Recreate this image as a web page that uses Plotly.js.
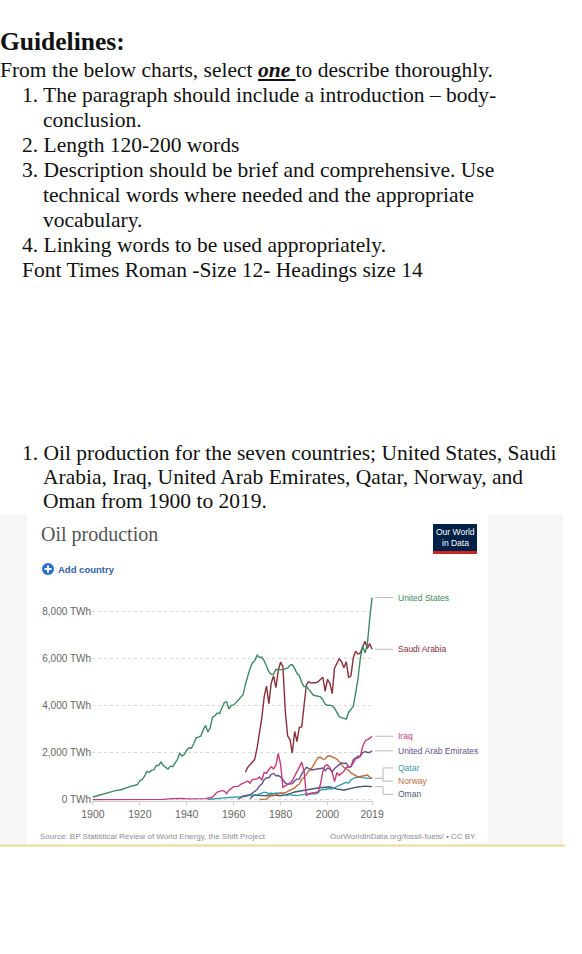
<!DOCTYPE html>
<html>
<head>
<meta charset="utf-8">
<script src="https://cdn.plot.ly/plotly-3.0.1.min.js"></script>
<style>
  html, body { margin: 0; padding: 0; background: #fff; }
  body { width: 582px; height: 954px; position: relative; overflow: hidden; }
  #chart { position: absolute; left: 0; top: 0; width: 582px; height: 954px; }
  .ln { position: absolute; font-family: "Liberation Serif", "Times New Roman", serif; font-size: 21.5px;
        line-height: 25px; color: #111; white-space: nowrap; }
  .hd { font-weight: bold; font-size: 25.5px; line-height: 28px; }
</style>
</head>
<body>
<div id="chart"></div>

<div class="ln hd" style="top:28px;left:0">Guidelines:</div>
<div class="ln" style="top:58px;left:0">From the below charts, select <b><i><u>one </u></i></b>to describe thoroughly.</div>
<div class="ln" style="top:83px;left:22px">1. The paragraph should include a introduction – body-</div>
<div class="ln" style="top:108px;left:43px">conclusion.</div>
<div class="ln" style="top:133px;left:22px">2. Length 120-200 words</div>
<div class="ln" style="top:158px;left:22px">3. Description should be brief and comprehensive. Use</div>
<div class="ln" style="top:183px;left:43px">technical words where needed and the appropriate</div>
<div class="ln" style="top:208px;left:43px">vocabulary.</div>
<div class="ln" style="top:233px;left:22px">4. Linking words to be used appropriately.</div>
<div class="ln" style="top:258px;left:22px">Font Times Roman -Size 12- Headings size 14</div>

<div class="ln" style="top:441px;left:22px">1. Oil production for the seven countries; United States, Saudi</div>
<div class="ln" style="top:465px;left:43px">Arabia, Iraq, United Arab Emirates, Qatar, Norway, and</div>
<div class="ln" style="top:489px;left:43px">Oman from 1900 to 2019.</div>

<script>
// years helper (x positions only)
function span(a, b) { var r = []; for (var y = a; y <= b; y++) r.push(y); return r; }

// ---- data, TWh ----
var usYears = [1900, 1902, 1904, 1906, 1908, 1910, 1912, 1914, 1916, 1918].concat(span(1919, 2019));
var usTWh = [110, 170, 230, 260, 340, 390, 420, 500, 560, 610,
  640, 800, 850, 1000, 1200, 1150, 1250, 1260, 1450, 1450,
  1600, 1450, 1380, 1300, 1420, 1400, 1550, 1700, 1960, 1850,
  1920, 2100, 2200, 2180, 2380, 2620, 2650, 2700, 2950, 3150,
  2870, 3050, 3500, 3560, 3680, 3650, 3900, 4120, 4150, 3850,
  4000, 4020, 4120, 4220, 4350, 4450,
  4900, 5250, 5570, 5810, 5900, 6130, 6030, 6050, 5900, 5670,
  5430, 5315, 5315, 5530, 5510, 5510, 5530, 5570, 5580, 5705,
  5730, 5560, 5360, 5260, 4970, 4790, 4820, 4680, 4550, 4430,
  4410, 4385, 4360, 4240, 4050, 4000, 4010, 3980, 3880, 3700,
  3520, 3480, 3450, 3420, 3700, 3820, 3960, 4520, 5140, 6000,
  6510, 6230, 6590, 7690, 8580];

var saudiYears = span(1965, 2019);
var saudiTWh = [1160, 1372, 1481, 1619, 1711, 2204, 2755, 3467, 4362, 4822,
  4075, 4936, 5258, 4753, 5464, 5843, 5637, 3765, 2709, 2549,
  1975, 2893, 2468, 3077, 3077, 3926, 4879, 5005, 4948, 4959,
  4959, 5005, 5120, 5200, 4600, 5100, 4950, 4500, 5579, 5797,
  5981, 5855, 5602, 5855, 5189, 5258, 6027, 6303, 6176, 6234,
  6509, 6727, 6417, 6624, 6383];

var iraqYears = [1900, 1926, 1927, 1930, 1934, 1935, 1938, 1940, 1942, 1945, 1948, 1950].concat(span(1951, 2019));
var iraqTWh = [0, 0, 10, 10, 40, 50, 50, 30, 30, 50, 40, 80,
  100, 220, 320, 350, 380, 360, 250, 400, 480, 550, 560, 560, 650, 700,
  740, 790, 700, 860, 860, 880, 960, 830, 1150, 1110,
  1280, 1390, 1300, 1460, 1960, 1500, 520, 580, 640, 700,
  810, 980, 1180, 1380, 1590, 1210, 160, 250, 270, 290,
  300, 320, 650, 1200, 1450, 1470, 1360, 1150, 760, 1140,
  1030, 1130, 1200, 1370, 1380, 1390, 1560, 1740, 1760, 1840,
  2260, 2490, 2550, 2600, 2690];

var uaeYears = [1962, 1963, 1964].concat(span(1965, 2019));
var uaeTWh = [20, 100, 150,
  160, 200, 205, 280, 345, 430, 580, 660, 840, 930,
  930, 1070, 1110, 1010, 1020, 960, 840, 710, 650, 660,
  680, 800, 870, 870, 1090, 1230, 1370, 1330, 1270, 1270,
  1300, 1310, 1320, 1340, 1230, 1340, 1300, 1180, 1320, 1410,
  1480, 1560, 1530, 1550, 1380, 1410, 1690, 1770, 1840, 1840,
  1990, 2040, 2000, 2000, 2070];

var qatarYears = [1949, 1950, 1952, 1955, 1958, 1960, 1962, 1964].concat(span(1965, 2019));
var qatarTWh = [5, 20, 40, 62, 90, 94, 100, 117,
  127, 160, 185, 196, 204, 200, 250, 280, 316, 290,
  250, 280, 250, 280, 290, 270, 230, 190, 170, 230,
  170, 190, 170, 190, 210, 240, 230, 250, 240, 240,
  250, 280, 400, 440, 420, 470, 460, 450, 510, 570,
  600, 650, 690, 735, 700, 830, 900, 940, 960, 950,
  920, 920, 900, 900, 900];

var norwayYears = span(1971, 2019);
var norwayTWh = [4, 18, 18, 20, 110, 160, 160, 200, 220, 280,
  280, 290, 350, 400, 460, 500, 600, 660, 860, 940,
  1070, 1220, 1290, 1460, 1590, 1790, 1800, 1720, 1720, 1840,
  1860, 1810, 1760, 1720, 1600, 1480, 1360, 1310, 1240, 1130,
  1070, 1000, 960, 980, 1010, 1040, 1040, 960, 900];

var omanYears = span(1967, 2019);
var omanTWh = [33, 140, 190, 190, 170, 160, 170, 165, 195, 210,
  195, 180, 170, 165, 190, 190, 225, 240, 285, 320,
  340, 355, 365, 390, 410, 430, 450, 465, 490, 505,
  515, 515, 515, 545, 545, 510, 465, 445, 440, 420,
  400, 430, 460, 490, 505, 520, 535, 535, 560, 570,
  550, 555, 550];

var yTicks = [0, 2000, 4000, 6000, 8000];
var yTickText = ['0 TWh', '2,000 TWh', '4,000 TWh', '6,000 TWh', '8,000 TWh'];
var xTicks = [1900, 1920, 1940, 1960, 1980, 2000, 2019];

// drawing order: first is at the bottom
var series = [
  {name: 'Oman', x: omanYears, y: omanTWh, color: '#4a5b70'},
  {name: 'Qatar', x: qatarYears, y: qatarTWh, color: '#3a9dab'},
  {name: 'Norway', x: norwayYears, y: norwayTWh, color: '#c0703f'},
  {name: 'United Arab Emirates', x: uaeYears, y: uaeTWh, color: '#66528a'},
  {name: 'Iraq', x: iraqYears, y: iraqTWh, color: '#c43c7e'},
  {name: 'Saudi Arabia', x: saudiYears, y: saudiTWh, color: '#883039'},
  {name: 'United States', x: usYears, y: usTWh, color: '#3d8a62'}
];

// plot box on the page, pixels
var plotL = 92, plotR = 373, plotT = 590, plotB = 801;
function px(x) { return (x - plotL) / (plotR - plotL); }
function py(y) { return (plotB - y) / (plotB - plotT); }

var traces = series.map(function (s) {
  return {x: s.x, y: s.y, type: 'scatter', mode: 'lines', name: s.name,
          line: {color: s.color, width: 1.4}, hoverinfo: 'skip'};
});

// end labels, spread apart where they would collide
var gap = 560;
var labs = series.map(function (s) { var v = s.y[s.y.length - 1]; return {s: s, end: v, y: v}; });
var order = ['United States', 'Saudi Arabia', 'Iraq', 'United Arab Emirates', 'Qatar', 'Norway', 'Oman'];
labs.sort(function (a, b) { return (b.end - a.end) || (order.indexOf(a.s.name) - order.indexOf(b.s.name)); });
var groups = labs.map(function (l) { return [l]; });
function place(g) {
  var m = g.reduce(function (t, l) { return t + l.end; }, 0) / g.length;
  g.forEach(function (l, k) { l.y = m + ((g.length - 1) / 2 - k) * gap; });
}
var merged = true;
while (merged) {
  merged = false;
  for (var i = 0; i < groups.length - 1; i++) {
    var a = groups[i], b = groups[i + 1];
    if (a[a.length - 1].y - b[0].y < gap - 1) {
      groups.splice(i, 2, a.concat(b));
      place(groups[i]);
      merged = true;
      break;
    }
  }
}

var annotations = [], shapes = [];
labs.forEach(function (l) {
  annotations.push({xref: 'paper', yref: 'y', x: 1, y: l.y, xshift: 23, xanchor: 'left', yanchor: 'middle',
    text: l.s.name, showarrow: false, font: {family: 'Liberation Sans, Arial, sans-serif', size: 8.5, color: l.s.color}});
  var p = Math.abs(l.y - l.end) < 1
    ? 'M 2,' + l.end + ' L 20,' + l.end
    : 'M 2,' + l.end + ' L 10,' + l.end + ' L 10,' + l.y + ' L 20,' + l.y;
  shapes.push({type: 'path', xref: 'paper', xsizemode: 'pixel', xanchor: 1, yref: 'y', path: p,
    line: {color: '#bbbbbb', width: 1}});
});

// page furniture around the chart
var sans = 'Liberation Sans, Arial, sans-serif';
shapes.push(
  {type: 'rect', xref: 'paper', yref: 'paper', x0: px(0), x1: px(27), y0: py(845), y1: py(515),
   fillcolor: '#f6f6f6', line: {width: 0}, layer: 'below'},
  {type: 'rect', xref: 'paper', yref: 'paper', x0: px(488), x1: px(563), y0: py(845), y1: py(515),
   fillcolor: '#f6f6f6', line: {width: 0}, layer: 'below'},
  {type: 'line', xref: 'paper', yref: 'paper', x0: px(0), x1: px(565), y0: py(845.5), y1: py(845.5),
   line: {color: '#ecda90', width: 2}},
  {type: 'rect', xref: 'paper', yref: 'paper', x0: px(433), x1: px(477), y0: py(551), y1: py(524),
   fillcolor: '#002147', line: {width: 0}},
  {type: 'rect', xref: 'paper', yref: 'paper', x0: px(433), x1: px(477), y0: py(554), y1: py(551),
   fillcolor: '#ce261e', line: {width: 0}},
  {type: 'circle', xref: 'paper', yref: 'paper', xsizemode: 'pixel', ysizemode: 'pixel',
   xanchor: px(48), yanchor: py(569), x0: -6, x1: 6, y0: -6, y1: 6, fillcolor: '#2b6fc4', line: {width: 0}},
  {type: 'path', xref: 'paper', yref: 'paper', xsizemode: 'pixel', ysizemode: 'pixel',
   xanchor: px(48), yanchor: py(569), path: 'M -3.5,0 L 3.5,0 M 0,-3.5 L 0,3.5', line: {color: '#fff', width: 2}}
);

annotations.push(
  {xref: 'paper', yref: 'paper', x: px(39), y: py(534), xanchor: 'left', yanchor: 'middle', showarrow: false,
   text: 'Oil production', font: {family: 'Liberation Serif, Times New Roman, serif', size: 20, color: '#555'}},
  {xref: 'paper', yref: 'paper', x: px(56), y: py(569), xanchor: 'left', yanchor: 'middle', showarrow: false,
   text: '<b>Add country</b>', font: {family: sans, size: 9.5, color: '#2f5ea6'}},
  {xref: 'paper', yref: 'paper', x: px(455), y: py(532), xanchor: 'center', yanchor: 'middle', showarrow: false,
   text: 'Our World', font: {family: sans, size: 8.5, color: '#fff'}},
  {xref: 'paper', yref: 'paper', x: px(455), y: py(543), xanchor: 'center', yanchor: 'middle', showarrow: false,
   text: 'in Data', font: {family: sans, size: 8.5, color: '#fff'}},
  {xref: 'paper', yref: 'paper', x: px(38), y: py(836), xanchor: 'left', yanchor: 'middle', showarrow: false,
   text: 'Source: BP Statistical Review of World Energy, the Shift Project', font: {family: sans, size: 8, color: '#8c8c8c'}},
  {xref: 'paper', yref: 'paper', x: px(478), y: py(836), xanchor: 'right', yanchor: 'middle', showarrow: false,
   text: 'OurWorldInData.org/fossil-fuels/ • CC BY', font: {family: sans, size: 8, color: '#8c8c8c'}}
);

var layout = {
  width: 582, height: 954, autosize: false,
  margin: {l: plotL, r: 582 - plotR, t: plotT, b: 954 - plotB, pad: 0},
  paper_bgcolor: 'rgba(0,0,0,0)', plot_bgcolor: 'rgba(0,0,0,0)',
  showlegend: false,
  font: {family: sans, color: '#666'},
  xaxis: {range: [1899.6, 2019.4], tickmode: 'array', tickvals: xTicks, showgrid: false, zeroline: false,
          showline: true, linecolor: '#cccccc', ticks: 'outside', ticklen: 3, tickcolor: '#cccccc',
          tickfont: {family: sans, size: 10.5, color: '#666'}, fixedrange: true},
  yaxis: {range: [-60, 8900], tickmode: 'array', tickvals: yTicks, ticktext: yTickText,
          showgrid: true, gridcolor: '#d9d9d9', griddash: 'dot', gridwidth: 1, zeroline: false,
          showline: false, ticks: '', tickfont: {family: sans, size: 10, color: '#666'}, fixedrange: true},
  annotations: annotations,
  shapes: shapes
};

Plotly.newPlot('chart', traces, layout, {displayModeBar: false, staticPlot: true});
</script>
</body>
</html>
